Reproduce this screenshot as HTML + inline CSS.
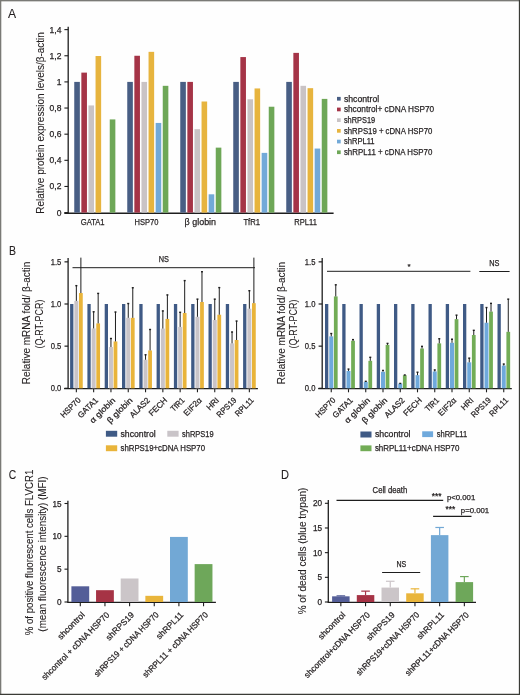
<!DOCTYPE html>
<html><head><meta charset="utf-8"><style>
html,body{margin:0;padding:0;background:#fefefe;}
svg{display:block;will-change:transform;font-family:"Liberation Sans",sans-serif;}
text{fill:#231f20;stroke:#231f20;stroke-width:0.25px;}
text.t{stroke-width:0.1px;}
</style></head><body>
<svg width="520" height="695" viewBox="0 0 520 695">
<rect width="520" height="695" fill="#fefefe"/>
<text x="8.10" y="17.90" font-size="13.2" text-anchor="start" textLength="8.1" lengthAdjust="spacingAndGlyphs" class="t">A</text>
<line x1="68.20" y1="26.80" x2="68.20" y2="213.20" stroke="#1e1e1e" stroke-width="1.3"/>
<line x1="64.30" y1="213.20" x2="333.60" y2="213.20" stroke="#1e1e1e" stroke-width="1.35"/>
<line x1="64.40" y1="212.60" x2="68.20" y2="212.60" stroke="#1e1e1e" stroke-width="1.1"/>
<text x="61.40" y="215.60" font-size="8.5" text-anchor="end">0</text>
<line x1="64.40" y1="186.46" x2="68.20" y2="186.46" stroke="#1e1e1e" stroke-width="1.1"/>
<text x="61.40" y="189.46" font-size="8.5" text-anchor="end">0,2</text>
<line x1="64.40" y1="160.32" x2="68.20" y2="160.32" stroke="#1e1e1e" stroke-width="1.1"/>
<text x="61.40" y="163.32" font-size="8.5" text-anchor="end">0,4</text>
<line x1="64.40" y1="134.18" x2="68.20" y2="134.18" stroke="#1e1e1e" stroke-width="1.1"/>
<text x="61.40" y="137.18" font-size="8.5" text-anchor="end">0,6</text>
<line x1="64.40" y1="108.04" x2="68.20" y2="108.04" stroke="#1e1e1e" stroke-width="1.1"/>
<text x="61.40" y="111.04" font-size="8.5" text-anchor="end">0,8</text>
<line x1="64.40" y1="81.90" x2="68.20" y2="81.90" stroke="#1e1e1e" stroke-width="1.1"/>
<text x="61.40" y="84.90" font-size="8.5" text-anchor="end">1</text>
<line x1="64.40" y1="55.76" x2="68.20" y2="55.76" stroke="#1e1e1e" stroke-width="1.1"/>
<text x="61.40" y="58.76" font-size="8.5" text-anchor="end">1,2</text>
<line x1="64.40" y1="29.62" x2="68.20" y2="29.62" stroke="#1e1e1e" stroke-width="1.1"/>
<text x="61.40" y="32.62" font-size="8.5" text-anchor="end">1,4</text>
<rect x="74.25" y="81.90" width="5.60" height="130.70" fill="#485e84"/>
<rect x="81.35" y="72.62" width="5.60" height="139.98" fill="#a53447"/>
<rect x="88.45" y="105.43" width="5.60" height="107.17" fill="#c9c3c5"/>
<rect x="95.55" y="56.02" width="5.60" height="156.58" fill="#e7b43e"/>
<rect x="109.75" y="119.41" width="5.60" height="93.19" fill="#6ea757"/>
<text x="92.65" y="225.00" font-size="9.4" text-anchor="middle" textLength="23.9" lengthAdjust="spacingAndGlyphs">GATA1</text>
<rect x="127.25" y="81.90" width="5.60" height="130.70" fill="#485e84"/>
<rect x="134.35" y="55.76" width="5.60" height="156.84" fill="#a53447"/>
<rect x="141.45" y="81.90" width="5.60" height="130.70" fill="#c9c3c5"/>
<rect x="148.55" y="51.84" width="5.60" height="160.76" fill="#e7b43e"/>
<rect x="155.65" y="122.94" width="5.60" height="89.66" fill="#72a9d8"/>
<rect x="162.75" y="85.82" width="5.60" height="126.78" fill="#6ea757"/>
<text x="146.45" y="225.00" font-size="9.4" text-anchor="middle" textLength="23.9" lengthAdjust="spacingAndGlyphs">HSP70</text>
<rect x="180.25" y="81.90" width="5.60" height="130.70" fill="#485e84"/>
<rect x="187.35" y="81.90" width="5.60" height="130.70" fill="#a53447"/>
<rect x="194.45" y="129.21" width="5.60" height="83.39" fill="#c9c3c5"/>
<rect x="201.55" y="101.51" width="5.60" height="111.09" fill="#e7b43e"/>
<rect x="208.65" y="194.30" width="5.60" height="18.30" fill="#72a9d8"/>
<rect x="215.75" y="147.64" width="5.60" height="64.96" fill="#6ea757"/>
<text x="200.35" y="225.00" font-size="9.4" text-anchor="middle" textLength="31.5" lengthAdjust="spacingAndGlyphs">&#946; globin</text>
<rect x="233.25" y="81.90" width="5.60" height="130.70" fill="#485e84"/>
<rect x="240.35" y="57.07" width="5.60" height="155.53" fill="#a53447"/>
<rect x="247.45" y="99.28" width="5.60" height="113.32" fill="#c9c3c5"/>
<rect x="254.55" y="88.44" width="5.60" height="124.16" fill="#e7b43e"/>
<rect x="261.65" y="152.87" width="5.60" height="59.73" fill="#72a9d8"/>
<rect x="268.75" y="106.73" width="5.60" height="105.87" fill="#6ea757"/>
<text x="251.75" y="225.00" font-size="9.4" text-anchor="middle" textLength="16.7" lengthAdjust="spacingAndGlyphs">TfR1</text>
<rect x="286.25" y="81.90" width="5.60" height="130.70" fill="#485e84"/>
<rect x="293.35" y="52.88" width="5.60" height="159.72" fill="#a53447"/>
<rect x="300.45" y="85.82" width="5.60" height="126.78" fill="#c9c3c5"/>
<rect x="307.55" y="88.17" width="5.60" height="124.43" fill="#e7b43e"/>
<rect x="314.65" y="148.56" width="5.60" height="64.04" fill="#72a9d8"/>
<rect x="321.75" y="98.89" width="5.60" height="113.71" fill="#6ea757"/>
<text x="305.55" y="225.00" font-size="9.4" text-anchor="middle" textLength="22.6" lengthAdjust="spacingAndGlyphs">RPL11</text>
<rect x="337.00" y="96.90" width="3.70" height="3.70" fill="#485e84"/>
<text x="343.90" y="101.50" font-size="9.0" text-anchor="start" textLength="35.3" lengthAdjust="spacingAndGlyphs">shcontrol</text>
<rect x="337.00" y="107.60" width="3.70" height="3.70" fill="#a53447"/>
<text x="343.90" y="112.20" font-size="9.0" text-anchor="start" textLength="90.3" lengthAdjust="spacingAndGlyphs">shcontrol+ cDNA HSP70</text>
<rect x="337.00" y="118.30" width="3.70" height="3.70" fill="#c9c3c5"/>
<text x="343.90" y="122.90" font-size="9.0" text-anchor="start" textLength="31.3" lengthAdjust="spacingAndGlyphs">shRPS19</text>
<rect x="337.00" y="129.00" width="3.70" height="3.70" fill="#e7b43e"/>
<text x="343.90" y="133.60" font-size="9.0" text-anchor="start" textLength="88.4" lengthAdjust="spacingAndGlyphs">shRPS19 + cDNA HSP70</text>
<rect x="337.00" y="139.70" width="3.70" height="3.70" fill="#72a9d8"/>
<text x="343.90" y="144.30" font-size="9.0" text-anchor="start" textLength="30.7" lengthAdjust="spacingAndGlyphs">shRPL11</text>
<rect x="337.00" y="150.40" width="3.70" height="3.70" fill="#6ea757"/>
<text x="343.90" y="155.00" font-size="9.0" text-anchor="start" textLength="88.4" lengthAdjust="spacingAndGlyphs">shRPL11 + cDNA HSP70</text>
<text transform="translate(44.20,122.90) rotate(-90)" font-size="10.8" text-anchor="middle" textLength="181.5" lengthAdjust="spacingAndGlyphs" class="t">Relative protein expression levels/&#946;-actin</text>
<text x="8.90" y="255.00" font-size="13.2" text-anchor="start" textLength="7.0" lengthAdjust="spacingAndGlyphs" class="t">B</text>
<line x1="68.10" y1="258.00" x2="68.10" y2="388.90" stroke="#1e1e1e" stroke-width="1.3"/>
<line x1="64.10" y1="388.70" x2="257.90" y2="388.70" stroke="#1e1e1e" stroke-width="1.3"/>
<line x1="64.50" y1="388.30" x2="68.10" y2="388.30" stroke="#1e1e1e" stroke-width="1.2"/>
<text x="61.30" y="391.30" font-size="8.8" text-anchor="end" textLength="10.6" lengthAdjust="spacingAndGlyphs">0.0</text>
<line x1="64.50" y1="346.15" x2="68.10" y2="346.15" stroke="#1e1e1e" stroke-width="1.2"/>
<text x="61.30" y="349.15" font-size="8.8" text-anchor="end" textLength="10.6" lengthAdjust="spacingAndGlyphs">0.5</text>
<line x1="64.50" y1="304.00" x2="68.10" y2="304.00" stroke="#1e1e1e" stroke-width="1.2"/>
<text x="61.30" y="307.00" font-size="8.8" text-anchor="end" textLength="10.6" lengthAdjust="spacingAndGlyphs">1.0</text>
<line x1="64.50" y1="261.85" x2="68.10" y2="261.85" stroke="#1e1e1e" stroke-width="1.2"/>
<text x="61.30" y="264.85" font-size="8.8" text-anchor="end" textLength="10.6" lengthAdjust="spacingAndGlyphs">1.5</text>
<rect x="70.10" y="304.00" width="3.30" height="84.30" fill="#3f5a85"/>
<rect x="74.35" y="300.88" width="4.00" height="87.42" fill="#c9c4c8"/>
<line x1="76.35" y1="300.88" x2="76.35" y2="285.45" stroke="#1e1e1e" stroke-width="1.0"/>
<line x1="75.35" y1="285.65" x2="77.35" y2="285.65" stroke="#1e1e1e" stroke-width="1.4"/>
<rect x="79.00" y="293.04" width="3.75" height="95.26" fill="#e9b43a"/>
<line x1="80.88" y1="293.04" x2="80.88" y2="257.63" stroke="#1e1e1e" stroke-width="1.0"/>
<line x1="76.35" y1="389.10" x2="76.35" y2="392.30" stroke="#1e1e1e" stroke-width="1.1"/>
<text transform="translate(81.25,400.80) rotate(-45)" font-size="8.2" text-anchor="end" textLength="24.68" lengthAdjust="spacingAndGlyphs">HSP70</text>
<rect x="87.40" y="304.00" width="3.30" height="84.30" fill="#3f5a85"/>
<rect x="91.65" y="328.45" width="4.00" height="59.85" fill="#c9c4c8"/>
<line x1="93.65" y1="328.45" x2="93.65" y2="311.59" stroke="#1e1e1e" stroke-width="1.0"/>
<line x1="92.65" y1="311.79" x2="94.65" y2="311.79" stroke="#1e1e1e" stroke-width="1.4"/>
<rect x="96.30" y="323.39" width="3.75" height="64.91" fill="#e9b43a"/>
<line x1="98.17" y1="323.39" x2="98.17" y2="293.21" stroke="#1e1e1e" stroke-width="1.0"/>
<line x1="97.17" y1="293.41" x2="99.17" y2="293.41" stroke="#1e1e1e" stroke-width="1.4"/>
<line x1="93.65" y1="389.10" x2="93.65" y2="392.30" stroke="#1e1e1e" stroke-width="1.1"/>
<text transform="translate(98.55,400.80) rotate(-45)" font-size="8.2" text-anchor="end" textLength="24.9" lengthAdjust="spacingAndGlyphs">GATA1</text>
<rect x="104.70" y="304.00" width="3.30" height="84.30" fill="#3f5a85"/>
<rect x="108.95" y="346.99" width="4.00" height="41.31" fill="#c9c4c8"/>
<line x1="110.95" y1="346.99" x2="110.95" y2="338.31" stroke="#1e1e1e" stroke-width="1.0"/>
<line x1="109.95" y1="338.51" x2="111.95" y2="338.51" stroke="#1e1e1e" stroke-width="1.4"/>
<rect x="113.60" y="341.43" width="3.75" height="46.87" fill="#e9b43a"/>
<line x1="115.47" y1="341.43" x2="115.47" y2="311.84" stroke="#1e1e1e" stroke-width="1.0"/>
<line x1="114.47" y1="312.04" x2="116.47" y2="312.04" stroke="#1e1e1e" stroke-width="1.4"/>
<line x1="110.95" y1="389.10" x2="110.95" y2="392.30" stroke="#1e1e1e" stroke-width="1.1"/>
<text transform="translate(115.85,400.80) rotate(-45)" font-size="8.2" text-anchor="end" textLength="32.37" lengthAdjust="spacingAndGlyphs">&#945; globin</text>
<rect x="122.00" y="304.00" width="3.30" height="84.30" fill="#3f5a85"/>
<rect x="126.25" y="317.83" width="4.00" height="70.47" fill="#c9c4c8"/>
<line x1="128.25" y1="317.83" x2="128.25" y2="303.33" stroke="#1e1e1e" stroke-width="1.0"/>
<line x1="127.25" y1="303.53" x2="129.25" y2="303.53" stroke="#1e1e1e" stroke-width="1.4"/>
<rect x="130.90" y="317.83" width="3.75" height="70.47" fill="#e9b43a"/>
<line x1="132.78" y1="317.83" x2="132.78" y2="287.56" stroke="#1e1e1e" stroke-width="1.0"/>
<line x1="131.78" y1="287.76" x2="133.78" y2="287.76" stroke="#1e1e1e" stroke-width="1.4"/>
<line x1="128.25" y1="389.10" x2="128.25" y2="392.30" stroke="#1e1e1e" stroke-width="1.1"/>
<text transform="translate(133.15,400.80) rotate(-45)" font-size="8.2" text-anchor="end" textLength="32.35" lengthAdjust="spacingAndGlyphs">&#946; globin</text>
<rect x="139.30" y="304.00" width="3.30" height="84.30" fill="#3f5a85"/>
<rect x="143.55" y="359.72" width="4.00" height="28.58" fill="#c9c4c8"/>
<line x1="145.55" y1="359.72" x2="145.55" y2="354.58" stroke="#1e1e1e" stroke-width="1.0"/>
<line x1="144.55" y1="354.78" x2="146.55" y2="354.78" stroke="#1e1e1e" stroke-width="1.4"/>
<rect x="148.20" y="350.45" width="3.75" height="37.85" fill="#e9b43a"/>
<line x1="150.08" y1="350.45" x2="150.08" y2="329.29" stroke="#1e1e1e" stroke-width="1.0"/>
<line x1="149.08" y1="329.49" x2="151.08" y2="329.49" stroke="#1e1e1e" stroke-width="1.4"/>
<line x1="145.55" y1="389.10" x2="145.55" y2="392.30" stroke="#1e1e1e" stroke-width="1.1"/>
<text transform="translate(150.45,400.80) rotate(-45)" font-size="8.2" text-anchor="end" textLength="24.76" lengthAdjust="spacingAndGlyphs">ALAS2</text>
<rect x="156.60" y="304.00" width="3.30" height="84.30" fill="#3f5a85"/>
<rect x="160.85" y="328.62" width="4.00" height="59.68" fill="#c9c4c8"/>
<line x1="162.85" y1="328.62" x2="162.85" y2="310.74" stroke="#1e1e1e" stroke-width="1.0"/>
<line x1="161.85" y1="310.94" x2="163.85" y2="310.94" stroke="#1e1e1e" stroke-width="1.4"/>
<rect x="165.50" y="318.92" width="3.75" height="69.38" fill="#e9b43a"/>
<line x1="167.38" y1="318.92" x2="167.38" y2="294.73" stroke="#1e1e1e" stroke-width="1.0"/>
<line x1="166.38" y1="294.93" x2="168.38" y2="294.93" stroke="#1e1e1e" stroke-width="1.4"/>
<line x1="162.85" y1="389.10" x2="162.85" y2="392.30" stroke="#1e1e1e" stroke-width="1.1"/>
<text transform="translate(167.75,400.80) rotate(-45)" font-size="8.2" text-anchor="end" textLength="22.32" lengthAdjust="spacingAndGlyphs">FECH</text>
<rect x="173.90" y="304.00" width="3.30" height="84.30" fill="#3f5a85"/>
<rect x="178.15" y="326.93" width="4.00" height="61.37" fill="#c9c4c8"/>
<line x1="180.15" y1="326.93" x2="180.15" y2="312.09" stroke="#1e1e1e" stroke-width="1.0"/>
<line x1="179.15" y1="312.29" x2="181.15" y2="312.29" stroke="#1e1e1e" stroke-width="1.4"/>
<rect x="182.80" y="313.02" width="3.75" height="75.28" fill="#e9b43a"/>
<line x1="184.68" y1="313.02" x2="184.68" y2="280.40" stroke="#1e1e1e" stroke-width="1.0"/>
<line x1="183.68" y1="280.60" x2="185.68" y2="280.60" stroke="#1e1e1e" stroke-width="1.4"/>
<line x1="180.15" y1="389.10" x2="180.15" y2="392.30" stroke="#1e1e1e" stroke-width="1.1"/>
<text transform="translate(185.05,400.80) rotate(-45)" font-size="8.2" text-anchor="end" textLength="15.99" lengthAdjust="spacingAndGlyphs">TfR1</text>
<rect x="191.20" y="304.00" width="3.30" height="84.30" fill="#3f5a85"/>
<rect x="195.45" y="316.81" width="4.00" height="71.49" fill="#c9c4c8"/>
<line x1="197.45" y1="316.81" x2="197.45" y2="298.94" stroke="#1e1e1e" stroke-width="1.0"/>
<line x1="196.45" y1="299.14" x2="198.45" y2="299.14" stroke="#1e1e1e" stroke-width="1.4"/>
<rect x="200.10" y="301.98" width="3.75" height="86.32" fill="#e9b43a"/>
<line x1="201.97" y1="301.98" x2="201.97" y2="271.54" stroke="#1e1e1e" stroke-width="1.0"/>
<line x1="200.97" y1="271.74" x2="202.97" y2="271.74" stroke="#1e1e1e" stroke-width="1.4"/>
<line x1="197.45" y1="389.10" x2="197.45" y2="392.30" stroke="#1e1e1e" stroke-width="1.1"/>
<text transform="translate(202.35,400.80) rotate(-45)" font-size="8.2" text-anchor="end" textLength="22.06" lengthAdjust="spacingAndGlyphs">EIF2&#945;</text>
<rect x="208.50" y="304.00" width="3.30" height="84.30" fill="#3f5a85"/>
<rect x="212.75" y="320.02" width="4.00" height="68.28" fill="#c9c4c8"/>
<line x1="214.75" y1="320.02" x2="214.75" y2="298.94" stroke="#1e1e1e" stroke-width="1.0"/>
<line x1="213.75" y1="299.14" x2="215.75" y2="299.14" stroke="#1e1e1e" stroke-width="1.4"/>
<rect x="217.40" y="314.71" width="3.75" height="73.59" fill="#e9b43a"/>
<line x1="219.28" y1="314.71" x2="219.28" y2="287.39" stroke="#1e1e1e" stroke-width="1.0"/>
<line x1="218.28" y1="287.59" x2="220.28" y2="287.59" stroke="#1e1e1e" stroke-width="1.4"/>
<line x1="214.75" y1="389.10" x2="214.75" y2="392.30" stroke="#1e1e1e" stroke-width="1.1"/>
<text transform="translate(219.65,400.80) rotate(-45)" font-size="8.2" text-anchor="end" textLength="14.12" lengthAdjust="spacingAndGlyphs">HRI</text>
<rect x="225.80" y="304.00" width="3.30" height="84.30" fill="#3f5a85"/>
<rect x="230.05" y="343.37" width="4.00" height="44.93" fill="#c9c4c8"/>
<line x1="232.05" y1="343.37" x2="232.05" y2="331.82" stroke="#1e1e1e" stroke-width="1.0"/>
<line x1="231.05" y1="332.02" x2="233.05" y2="332.02" stroke="#1e1e1e" stroke-width="1.4"/>
<rect x="234.70" y="340.00" width="3.75" height="48.30" fill="#e9b43a"/>
<line x1="236.58" y1="340.00" x2="236.58" y2="320.86" stroke="#1e1e1e" stroke-width="1.0"/>
<line x1="235.58" y1="321.06" x2="237.58" y2="321.06" stroke="#1e1e1e" stroke-width="1.4"/>
<line x1="232.05" y1="389.10" x2="232.05" y2="392.30" stroke="#1e1e1e" stroke-width="1.1"/>
<text transform="translate(236.95,400.80) rotate(-45)" font-size="8.2" text-anchor="end" textLength="24.16" lengthAdjust="spacingAndGlyphs">RPS19</text>
<rect x="243.10" y="304.00" width="3.30" height="84.30" fill="#3f5a85"/>
<rect x="247.35" y="308.72" width="4.00" height="79.58" fill="#c9c4c8"/>
<line x1="249.35" y1="308.72" x2="249.35" y2="290.51" stroke="#1e1e1e" stroke-width="1.0"/>
<line x1="248.35" y1="290.71" x2="250.35" y2="290.71" stroke="#1e1e1e" stroke-width="1.4"/>
<rect x="252.00" y="303.16" width="3.75" height="85.14" fill="#e9b43a"/>
<line x1="253.88" y1="303.16" x2="253.88" y2="257.63" stroke="#1e1e1e" stroke-width="1.0"/>
<line x1="249.35" y1="389.10" x2="249.35" y2="392.30" stroke="#1e1e1e" stroke-width="1.1"/>
<text transform="translate(254.25,400.80) rotate(-45)" font-size="8.2" text-anchor="end" textLength="22.75" lengthAdjust="spacingAndGlyphs">RPL11</text>
<line x1="72.50" y1="267.70" x2="255.00" y2="267.70" stroke="#1e1e1e" stroke-width="1.0"/>
<text x="163.90" y="262.20" font-size="8.8" text-anchor="middle" textLength="10.2" lengthAdjust="spacingAndGlyphs">NS</text>
<text transform="translate(30.00,322.90) rotate(-90)" font-size="10" text-anchor="middle" class="t">Relative mRNA fold/ &#946;-actin</text>
<text transform="translate(42.60,324.10) rotate(-90)" font-size="10.3" text-anchor="middle" textLength="49.0" lengthAdjust="spacingAndGlyphs" class="t">(Q-RT-PCR)</text>
<rect x="105.90" y="430.80" width="11.30" height="5.90" fill="#3f5a85"/>
<text x="120.50" y="436.50" font-size="8.9" text-anchor="start" textLength="35.2" lengthAdjust="spacingAndGlyphs">shcontrol</text>
<rect x="167.30" y="430.80" width="11.30" height="5.90" fill="#c9c4c8"/>
<text x="182.10" y="436.50" font-size="8.9" text-anchor="start" textLength="31.5" lengthAdjust="spacingAndGlyphs">shRPS19</text>
<rect x="105.90" y="445.30" width="11.30" height="5.90" fill="#e9b43a"/>
<text x="120.50" y="450.70" font-size="8.9" text-anchor="start" textLength="84.5" lengthAdjust="spacingAndGlyphs">shRPS19+cDNA HSP70</text>
<line x1="322.20" y1="258.00" x2="322.20" y2="388.90" stroke="#1e1e1e" stroke-width="1.3"/>
<line x1="318.20" y1="388.70" x2="511.80" y2="388.70" stroke="#1e1e1e" stroke-width="1.3"/>
<line x1="318.60" y1="388.30" x2="322.20" y2="388.30" stroke="#1e1e1e" stroke-width="1.2"/>
<text x="315.40" y="391.30" font-size="8.8" text-anchor="end" textLength="10.6" lengthAdjust="spacingAndGlyphs">0.0</text>
<line x1="318.60" y1="346.15" x2="322.20" y2="346.15" stroke="#1e1e1e" stroke-width="1.2"/>
<text x="315.40" y="349.15" font-size="8.8" text-anchor="end" textLength="10.6" lengthAdjust="spacingAndGlyphs">0.5</text>
<line x1="318.60" y1="304.00" x2="322.20" y2="304.00" stroke="#1e1e1e" stroke-width="1.2"/>
<text x="315.40" y="307.00" font-size="8.8" text-anchor="end" textLength="10.6" lengthAdjust="spacingAndGlyphs">1.0</text>
<line x1="318.60" y1="261.85" x2="322.20" y2="261.85" stroke="#1e1e1e" stroke-width="1.2"/>
<text x="315.40" y="264.85" font-size="8.8" text-anchor="end" textLength="10.6" lengthAdjust="spacingAndGlyphs">1.5</text>
<rect x="325.00" y="304.00" width="3.30" height="84.30" fill="#3f5a85"/>
<rect x="329.25" y="336.37" width="4.00" height="51.93" fill="#6fa9dc"/>
<line x1="331.25" y1="336.37" x2="331.25" y2="333.34" stroke="#1e1e1e" stroke-width="1.0"/>
<line x1="330.25" y1="333.54" x2="332.25" y2="333.54" stroke="#1e1e1e" stroke-width="1.4"/>
<rect x="333.90" y="296.41" width="3.75" height="91.89" fill="#72ac56"/>
<line x1="335.77" y1="296.41" x2="335.77" y2="284.61" stroke="#1e1e1e" stroke-width="1.0"/>
<line x1="334.77" y1="284.81" x2="336.77" y2="284.81" stroke="#1e1e1e" stroke-width="1.4"/>
<line x1="331.25" y1="389.10" x2="331.25" y2="392.30" stroke="#1e1e1e" stroke-width="1.1"/>
<text transform="translate(336.15,400.80) rotate(-45)" font-size="8.2" text-anchor="end" textLength="24.68" lengthAdjust="spacingAndGlyphs">HSP70</text>
<rect x="342.25" y="304.00" width="3.30" height="84.30" fill="#3f5a85"/>
<rect x="346.50" y="370.93" width="4.00" height="17.37" fill="#6fa9dc"/>
<line x1="348.50" y1="370.93" x2="348.50" y2="368.91" stroke="#1e1e1e" stroke-width="1.0"/>
<line x1="347.50" y1="369.11" x2="349.50" y2="369.11" stroke="#1e1e1e" stroke-width="1.4"/>
<rect x="351.15" y="340.75" width="3.75" height="47.55" fill="#72ac56"/>
<line x1="353.02" y1="340.75" x2="353.02" y2="339.41" stroke="#1e1e1e" stroke-width="1.0"/>
<line x1="352.02" y1="339.61" x2="354.02" y2="339.61" stroke="#1e1e1e" stroke-width="1.4"/>
<line x1="348.50" y1="389.10" x2="348.50" y2="392.30" stroke="#1e1e1e" stroke-width="1.1"/>
<text transform="translate(353.40,400.80) rotate(-45)" font-size="8.2" text-anchor="end" textLength="24.9" lengthAdjust="spacingAndGlyphs">GATA1</text>
<rect x="359.50" y="304.00" width="3.30" height="84.30" fill="#3f5a85"/>
<rect x="363.75" y="381.89" width="4.00" height="6.41" fill="#6fa9dc"/>
<line x1="365.75" y1="381.89" x2="365.75" y2="381.13" stroke="#1e1e1e" stroke-width="1.0"/>
<line x1="364.75" y1="381.33" x2="366.75" y2="381.33" stroke="#1e1e1e" stroke-width="1.4"/>
<rect x="368.40" y="360.82" width="3.75" height="27.48" fill="#72ac56"/>
<line x1="370.27" y1="360.82" x2="370.27" y2="357.11" stroke="#1e1e1e" stroke-width="1.0"/>
<line x1="369.27" y1="357.31" x2="371.27" y2="357.31" stroke="#1e1e1e" stroke-width="1.4"/>
<line x1="365.75" y1="389.10" x2="365.75" y2="392.30" stroke="#1e1e1e" stroke-width="1.1"/>
<text transform="translate(370.65,400.80) rotate(-45)" font-size="8.2" text-anchor="end" textLength="32.37" lengthAdjust="spacingAndGlyphs">&#945; globin</text>
<rect x="376.75" y="304.00" width="3.30" height="84.30" fill="#3f5a85"/>
<rect x="381.00" y="371.78" width="4.00" height="16.52" fill="#6fa9dc"/>
<line x1="383.00" y1="371.78" x2="383.00" y2="370.18" stroke="#1e1e1e" stroke-width="1.0"/>
<line x1="382.00" y1="370.38" x2="384.00" y2="370.38" stroke="#1e1e1e" stroke-width="1.4"/>
<rect x="385.65" y="344.89" width="3.75" height="43.41" fill="#72ac56"/>
<line x1="387.52" y1="344.89" x2="387.52" y2="343.20" stroke="#1e1e1e" stroke-width="1.0"/>
<line x1="386.52" y1="343.40" x2="388.52" y2="343.40" stroke="#1e1e1e" stroke-width="1.4"/>
<line x1="383.00" y1="389.10" x2="383.00" y2="392.30" stroke="#1e1e1e" stroke-width="1.1"/>
<text transform="translate(387.90,400.80) rotate(-45)" font-size="8.2" text-anchor="end" textLength="32.35" lengthAdjust="spacingAndGlyphs">&#946; globin</text>
<rect x="394.00" y="304.00" width="3.30" height="84.30" fill="#3f5a85"/>
<rect x="398.25" y="383.58" width="4.00" height="4.72" fill="#6fa9dc"/>
<line x1="400.25" y1="383.58" x2="400.25" y2="383.24" stroke="#1e1e1e" stroke-width="1.0"/>
<line x1="399.25" y1="383.44" x2="401.25" y2="383.44" stroke="#1e1e1e" stroke-width="1.4"/>
<rect x="402.90" y="375.23" width="3.75" height="13.07" fill="#72ac56"/>
<line x1="404.77" y1="375.23" x2="404.77" y2="374.81" stroke="#1e1e1e" stroke-width="1.0"/>
<line x1="403.77" y1="375.01" x2="405.77" y2="375.01" stroke="#1e1e1e" stroke-width="1.4"/>
<line x1="400.25" y1="389.10" x2="400.25" y2="392.30" stroke="#1e1e1e" stroke-width="1.1"/>
<text transform="translate(405.15,400.80) rotate(-45)" font-size="8.2" text-anchor="end" textLength="24.76" lengthAdjust="spacingAndGlyphs">ALAS2</text>
<rect x="411.25" y="304.00" width="3.30" height="84.30" fill="#3f5a85"/>
<rect x="415.50" y="375.15" width="4.00" height="13.15" fill="#6fa9dc"/>
<line x1="417.50" y1="375.15" x2="417.50" y2="372.03" stroke="#1e1e1e" stroke-width="1.0"/>
<line x1="416.50" y1="372.23" x2="418.50" y2="372.23" stroke="#1e1e1e" stroke-width="1.4"/>
<rect x="420.15" y="348.51" width="3.75" height="39.79" fill="#72ac56"/>
<line x1="422.02" y1="348.51" x2="422.02" y2="346.15" stroke="#1e1e1e" stroke-width="1.0"/>
<line x1="421.02" y1="346.35" x2="423.02" y2="346.35" stroke="#1e1e1e" stroke-width="1.4"/>
<line x1="417.50" y1="389.10" x2="417.50" y2="392.30" stroke="#1e1e1e" stroke-width="1.1"/>
<text transform="translate(422.40,400.80) rotate(-45)" font-size="8.2" text-anchor="end" textLength="22.32" lengthAdjust="spacingAndGlyphs">FECH</text>
<rect x="428.50" y="304.00" width="3.30" height="84.30" fill="#3f5a85"/>
<rect x="432.75" y="371.44" width="4.00" height="16.86" fill="#6fa9dc"/>
<line x1="434.75" y1="371.44" x2="434.75" y2="369.75" stroke="#1e1e1e" stroke-width="1.0"/>
<line x1="433.75" y1="369.95" x2="435.75" y2="369.95" stroke="#1e1e1e" stroke-width="1.4"/>
<rect x="437.40" y="343.37" width="3.75" height="44.93" fill="#72ac56"/>
<line x1="439.27" y1="343.37" x2="439.27" y2="338.56" stroke="#1e1e1e" stroke-width="1.0"/>
<line x1="438.27" y1="338.76" x2="440.27" y2="338.76" stroke="#1e1e1e" stroke-width="1.4"/>
<line x1="434.75" y1="389.10" x2="434.75" y2="392.30" stroke="#1e1e1e" stroke-width="1.1"/>
<text transform="translate(439.65,400.80) rotate(-45)" font-size="8.2" text-anchor="end" textLength="15.99" lengthAdjust="spacingAndGlyphs">TfR1</text>
<rect x="445.75" y="304.00" width="3.30" height="84.30" fill="#3f5a85"/>
<rect x="450.00" y="342.78" width="4.00" height="45.52" fill="#6fa9dc"/>
<line x1="452.00" y1="342.78" x2="452.00" y2="338.98" stroke="#1e1e1e" stroke-width="1.0"/>
<line x1="451.00" y1="339.18" x2="453.00" y2="339.18" stroke="#1e1e1e" stroke-width="1.4"/>
<rect x="454.65" y="319.17" width="3.75" height="69.13" fill="#72ac56"/>
<line x1="456.52" y1="319.17" x2="456.52" y2="314.96" stroke="#1e1e1e" stroke-width="1.0"/>
<line x1="455.52" y1="315.16" x2="457.52" y2="315.16" stroke="#1e1e1e" stroke-width="1.4"/>
<line x1="452.00" y1="389.10" x2="452.00" y2="392.30" stroke="#1e1e1e" stroke-width="1.1"/>
<text transform="translate(456.90,400.80) rotate(-45)" font-size="8.2" text-anchor="end" textLength="22.06" lengthAdjust="spacingAndGlyphs">EIF2&#945;</text>
<rect x="463.00" y="304.00" width="3.30" height="84.30" fill="#3f5a85"/>
<rect x="467.25" y="362.34" width="4.00" height="25.96" fill="#6fa9dc"/>
<line x1="469.25" y1="362.34" x2="469.25" y2="357.95" stroke="#1e1e1e" stroke-width="1.0"/>
<line x1="468.25" y1="358.15" x2="470.25" y2="358.15" stroke="#1e1e1e" stroke-width="1.4"/>
<rect x="471.90" y="335.02" width="3.75" height="53.28" fill="#72ac56"/>
<line x1="473.77" y1="335.02" x2="473.77" y2="330.13" stroke="#1e1e1e" stroke-width="1.0"/>
<line x1="472.77" y1="330.33" x2="474.77" y2="330.33" stroke="#1e1e1e" stroke-width="1.4"/>
<line x1="469.25" y1="389.10" x2="469.25" y2="392.30" stroke="#1e1e1e" stroke-width="1.1"/>
<text transform="translate(474.15,400.80) rotate(-45)" font-size="8.2" text-anchor="end" textLength="14.12" lengthAdjust="spacingAndGlyphs">HRI</text>
<rect x="480.25" y="304.00" width="3.30" height="84.30" fill="#3f5a85"/>
<rect x="484.50" y="322.71" width="4.00" height="65.59" fill="#6fa9dc"/>
<line x1="486.50" y1="322.71" x2="486.50" y2="307.37" stroke="#1e1e1e" stroke-width="1.0"/>
<line x1="485.50" y1="307.57" x2="487.50" y2="307.57" stroke="#1e1e1e" stroke-width="1.4"/>
<rect x="489.15" y="311.59" width="3.75" height="76.71" fill="#72ac56"/>
<line x1="491.02" y1="311.59" x2="491.02" y2="303.16" stroke="#1e1e1e" stroke-width="1.0"/>
<line x1="490.02" y1="303.36" x2="492.02" y2="303.36" stroke="#1e1e1e" stroke-width="1.4"/>
<line x1="486.50" y1="389.10" x2="486.50" y2="392.30" stroke="#1e1e1e" stroke-width="1.1"/>
<text transform="translate(491.40,400.80) rotate(-45)" font-size="8.2" text-anchor="end" textLength="24.16" lengthAdjust="spacingAndGlyphs">RPS19</text>
<rect x="497.50" y="304.00" width="3.30" height="84.30" fill="#3f5a85"/>
<rect x="501.75" y="365.54" width="4.00" height="22.76" fill="#6fa9dc"/>
<line x1="503.75" y1="365.54" x2="503.75" y2="363.85" stroke="#1e1e1e" stroke-width="1.0"/>
<line x1="502.75" y1="364.05" x2="504.75" y2="364.05" stroke="#1e1e1e" stroke-width="1.4"/>
<rect x="506.40" y="331.82" width="3.75" height="56.48" fill="#72ac56"/>
<line x1="508.27" y1="331.82" x2="508.27" y2="298.94" stroke="#1e1e1e" stroke-width="1.0"/>
<line x1="507.27" y1="299.14" x2="509.27" y2="299.14" stroke="#1e1e1e" stroke-width="1.4"/>
<line x1="503.75" y1="389.10" x2="503.75" y2="392.30" stroke="#1e1e1e" stroke-width="1.1"/>
<text transform="translate(508.65,400.80) rotate(-45)" font-size="8.2" text-anchor="end" textLength="22.75" lengthAdjust="spacingAndGlyphs">RPL11</text>
<line x1="327.00" y1="271.30" x2="470.40" y2="271.30" stroke="#1e1e1e" stroke-width="1.0"/>
<text x="409.00" y="268.50" font-size="8.0" text-anchor="middle">*</text>
<line x1="479.30" y1="271.50" x2="509.60" y2="271.50" stroke="#1e1e1e" stroke-width="1.0"/>
<text x="494.40" y="265.80" font-size="8.8" text-anchor="middle" textLength="10.2" lengthAdjust="spacingAndGlyphs">NS</text>
<text transform="translate(285.00,323.10) rotate(-90)" font-size="10" text-anchor="middle" class="t">Relative mRNA fold/ &#946;-actin</text>
<text transform="translate(296.80,324.10) rotate(-90)" font-size="10.3" text-anchor="middle" textLength="49.0" lengthAdjust="spacingAndGlyphs" class="t">(Q-RT-PCR)</text>
<rect x="360.40" y="431.50" width="11.10" height="6.00" fill="#3f5a85"/>
<text x="374.90" y="437.10" font-size="8.9" text-anchor="start" textLength="35.6" lengthAdjust="spacingAndGlyphs">shcontrol</text>
<rect x="422.20" y="431.30" width="10.90" height="5.80" fill="#6fa9dc"/>
<text x="436.70" y="437.10" font-size="8.9" text-anchor="start" textLength="30.5" lengthAdjust="spacingAndGlyphs">shRPL11</text>
<rect x="360.40" y="445.40" width="11.10" height="5.80" fill="#72ac56"/>
<text x="374.90" y="450.50" font-size="8.9" text-anchor="start" textLength="84.5" lengthAdjust="spacingAndGlyphs">shRPL11+cDNA HSP70</text>
<text x="8.70" y="478.50" font-size="13.2" text-anchor="start" textLength="7.5" lengthAdjust="spacingAndGlyphs" class="t">C</text>
<line x1="67.90" y1="500.80" x2="67.90" y2="602.60" stroke="#1e1e1e" stroke-width="1.3"/>
<line x1="67.30" y1="602.30" x2="215.90" y2="602.30" stroke="#1e1e1e" stroke-width="1.3"/>
<line x1="64.50" y1="602.00" x2="67.90" y2="602.00" stroke="#1e1e1e" stroke-width="1.1"/>
<text x="61.50" y="605.00" font-size="8.2" text-anchor="end">0</text>
<line x1="64.50" y1="569.16" x2="67.90" y2="569.16" stroke="#1e1e1e" stroke-width="1.1"/>
<text x="61.50" y="572.16" font-size="8.2" text-anchor="end">5</text>
<line x1="64.50" y1="536.33" x2="67.90" y2="536.33" stroke="#1e1e1e" stroke-width="1.1"/>
<text x="61.50" y="539.33" font-size="8.2" text-anchor="end">10</text>
<line x1="64.50" y1="503.50" x2="67.90" y2="503.50" stroke="#1e1e1e" stroke-width="1.1"/>
<text x="61.50" y="506.50" font-size="8.2" text-anchor="end">15</text>
<rect x="71.40" y="586.30" width="17.80" height="15.70" fill="#545e98"/>
<line x1="80.30" y1="602.80" x2="80.30" y2="606.30" stroke="#1e1e1e" stroke-width="1.1"/>
<text transform="translate(85.30,615.50) rotate(-45)" font-size="8.5" text-anchor="end">shcontrol</text>
<rect x="96.05" y="590.18" width="17.80" height="11.82" fill="#a63345"/>
<line x1="104.95" y1="602.80" x2="104.95" y2="606.30" stroke="#1e1e1e" stroke-width="1.1"/>
<text transform="translate(109.95,615.50) rotate(-45)" font-size="8.5" text-anchor="end" textLength="92.0" lengthAdjust="spacingAndGlyphs">shcontrol + cDNA HSP70</text>
<rect x="120.70" y="578.49" width="17.80" height="23.51" fill="#cbc5c8"/>
<line x1="129.60" y1="602.80" x2="129.60" y2="606.30" stroke="#1e1e1e" stroke-width="1.1"/>
<text transform="translate(134.60,615.50) rotate(-45)" font-size="8.5" text-anchor="end">shRPS19</text>
<rect x="145.35" y="595.83" width="17.80" height="6.17" fill="#e9b53b"/>
<line x1="154.25" y1="602.80" x2="154.25" y2="606.30" stroke="#1e1e1e" stroke-width="1.1"/>
<text transform="translate(159.25,615.50) rotate(-45)" font-size="8.5" text-anchor="end" textLength="87.5" lengthAdjust="spacingAndGlyphs">shRPS19 + cDNA HSP70</text>
<rect x="170.00" y="536.92" width="17.80" height="65.08" fill="#72a8d5"/>
<line x1="178.90" y1="602.80" x2="178.90" y2="606.30" stroke="#1e1e1e" stroke-width="1.1"/>
<text transform="translate(183.90,615.50) rotate(-45)" font-size="8.5" text-anchor="end">shRPL11</text>
<rect x="194.65" y="564.11" width="17.80" height="37.89" fill="#6ea75a"/>
<line x1="203.55" y1="602.80" x2="203.55" y2="606.30" stroke="#1e1e1e" stroke-width="1.1"/>
<text transform="translate(208.55,615.50) rotate(-45)" font-size="8.5" text-anchor="end" textLength="88.5" lengthAdjust="spacingAndGlyphs">shRPL11 + cDNA HSP70</text>
<text transform="translate(33.00,552.50) rotate(-90)" font-size="10.5" text-anchor="middle" textLength="165.5" lengthAdjust="spacingAndGlyphs" class="t">% of positive fluorescent cells FLVCR1</text>
<text transform="translate(45.60,554.00) rotate(-90)" font-size="10.5" text-anchor="middle" textLength="155.3" lengthAdjust="spacingAndGlyphs" class="t">(mean fluorescence intensity) (MFI)</text>
<text x="281.00" y="478.70" font-size="13.2" text-anchor="start" textLength="8.0" lengthAdjust="spacingAndGlyphs" class="t">D</text>
<line x1="328.30" y1="500.00" x2="328.30" y2="602.60" stroke="#1e1e1e" stroke-width="1.3"/>
<line x1="327.70" y1="602.30" x2="476.00" y2="602.30" stroke="#1e1e1e" stroke-width="1.3"/>
<line x1="324.90" y1="602.00" x2="328.30" y2="602.00" stroke="#1e1e1e" stroke-width="1.1"/>
<text x="322.00" y="605.00" font-size="8.2" text-anchor="end">0</text>
<line x1="324.90" y1="577.33" x2="328.30" y2="577.33" stroke="#1e1e1e" stroke-width="1.1"/>
<text x="322.00" y="580.33" font-size="8.2" text-anchor="end">5</text>
<line x1="324.90" y1="552.65" x2="328.30" y2="552.65" stroke="#1e1e1e" stroke-width="1.1"/>
<text x="322.00" y="555.65" font-size="8.2" text-anchor="end">10</text>
<line x1="324.90" y1="527.98" x2="328.30" y2="527.98" stroke="#1e1e1e" stroke-width="1.1"/>
<text x="322.00" y="530.98" font-size="8.2" text-anchor="end">15</text>
<line x1="324.90" y1="503.30" x2="328.30" y2="503.30" stroke="#1e1e1e" stroke-width="1.1"/>
<text x="322.00" y="506.30" font-size="8.2" text-anchor="end">20</text>
<rect x="332.10" y="596.32" width="17.50" height="5.68" fill="#545e98"/>
<line x1="340.85" y1="596.32" x2="340.85" y2="595.83" stroke="#545e98" stroke-width="1.2"/>
<line x1="336.55" y1="595.83" x2="345.15" y2="595.83" stroke="#545e98" stroke-width="1.2"/>
<line x1="340.85" y1="602.80" x2="340.85" y2="606.30" stroke="#1e1e1e" stroke-width="1.1"/>
<text transform="translate(345.85,615.50) rotate(-45)" font-size="8.5" text-anchor="end">shcontrol</text>
<rect x="356.80" y="595.09" width="17.50" height="6.91" fill="#a63345"/>
<line x1="365.55" y1="595.09" x2="365.55" y2="591.14" stroke="#a63345" stroke-width="1.2"/>
<line x1="361.25" y1="591.14" x2="369.85" y2="591.14" stroke="#a63345" stroke-width="1.2"/>
<line x1="365.55" y1="602.80" x2="365.55" y2="606.30" stroke="#1e1e1e" stroke-width="1.1"/>
<text transform="translate(370.55,615.50) rotate(-45)" font-size="8.5" text-anchor="end" textLength="89.0" lengthAdjust="spacingAndGlyphs">shcontrol+cDNA HSP70</text>
<rect x="381.50" y="587.59" width="17.50" height="14.41" fill="#cbc5c8"/>
<line x1="390.25" y1="587.59" x2="390.25" y2="581.27" stroke="#cbc5c8" stroke-width="1.2"/>
<line x1="385.95" y1="581.27" x2="394.55" y2="581.27" stroke="#cbc5c8" stroke-width="1.2"/>
<line x1="390.25" y1="602.80" x2="390.25" y2="606.30" stroke="#1e1e1e" stroke-width="1.1"/>
<text transform="translate(395.25,615.50) rotate(-45)" font-size="8.5" text-anchor="end">shRPS19</text>
<rect x="406.20" y="593.31" width="17.50" height="8.69" fill="#e9b53b"/>
<line x1="414.95" y1="593.31" x2="414.95" y2="588.82" stroke="#e9b53b" stroke-width="1.2"/>
<line x1="410.65" y1="588.82" x2="419.25" y2="588.82" stroke="#e9b53b" stroke-width="1.2"/>
<line x1="414.95" y1="602.80" x2="414.95" y2="606.30" stroke="#1e1e1e" stroke-width="1.1"/>
<text transform="translate(419.95,615.50) rotate(-45)" font-size="8.5" text-anchor="end" textLength="85.5" lengthAdjust="spacingAndGlyphs">shRPS19+cDNA HSP70</text>
<rect x="430.90" y="535.13" width="17.50" height="66.87" fill="#72a8d5"/>
<line x1="439.65" y1="535.13" x2="439.65" y2="527.48" stroke="#72a8d5" stroke-width="1.2"/>
<line x1="435.35" y1="527.48" x2="443.95" y2="527.48" stroke="#72a8d5" stroke-width="1.2"/>
<line x1="439.65" y1="602.80" x2="439.65" y2="606.30" stroke="#1e1e1e" stroke-width="1.1"/>
<text transform="translate(444.65,615.50) rotate(-45)" font-size="8.5" text-anchor="end">shRPL11</text>
<rect x="455.60" y="582.11" width="17.50" height="19.89" fill="#6ea75a"/>
<line x1="464.35" y1="582.11" x2="464.35" y2="576.58" stroke="#6ea75a" stroke-width="1.2"/>
<line x1="460.05" y1="576.58" x2="468.65" y2="576.58" stroke="#6ea75a" stroke-width="1.2"/>
<line x1="464.35" y1="602.80" x2="464.35" y2="606.30" stroke="#1e1e1e" stroke-width="1.1"/>
<text transform="translate(469.35,615.50) rotate(-45)" font-size="8.5" text-anchor="end" textLength="86.0" lengthAdjust="spacingAndGlyphs">shRPL11+cDNA HSP70</text>
<text transform="translate(305.80,551.00) rotate(-90)" font-size="10" text-anchor="middle" class="t">% of dead cells (blue trypan)</text>
<line x1="336.50" y1="500.40" x2="443.20" y2="500.40" stroke="#1e1e1e" stroke-width="1.1"/>
<text x="389.90" y="493.20" font-size="8.6" text-anchor="middle" textLength="34.6" lengthAdjust="spacingAndGlyphs">Cell death</text>
<text x="436.70" y="498.80" font-size="8.5" text-anchor="middle" textLength="9.8" lengthAdjust="spacingAndGlyphs">***</text>
<text x="446.90" y="499.60" font-size="7.8" text-anchor="start">p&lt;0.001</text>
<line x1="433.10" y1="516.40" x2="471.50" y2="516.40" stroke="#1e1e1e" stroke-width="1.1"/>
<text x="450.30" y="512.00" font-size="8.5" text-anchor="middle" textLength="9.8" lengthAdjust="spacingAndGlyphs">***</text>
<text x="460.80" y="512.70" font-size="7.8" text-anchor="start">p=0.001</text>
<line x1="382.10" y1="572.50" x2="420.20" y2="572.50" stroke="#1e1e1e" stroke-width="1.1"/>
<text x="401.40" y="566.60" font-size="8.3" text-anchor="middle" textLength="9.8" lengthAdjust="spacingAndGlyphs">NS</text>
<rect x="0.00" y="0.00" width="520.00" height="1.35" fill="#7a7a76"/>
<rect x="0.00" y="0.00" width="1.30" height="695.00" fill="#7a7a76"/>
<rect x="518.85" y="0.00" width="1.15" height="695.00" fill="#3a3b36"/>
<rect x="0.00" y="693.75" width="520.00" height="1.25" fill="#3a3b36"/>
</svg></body></html>
